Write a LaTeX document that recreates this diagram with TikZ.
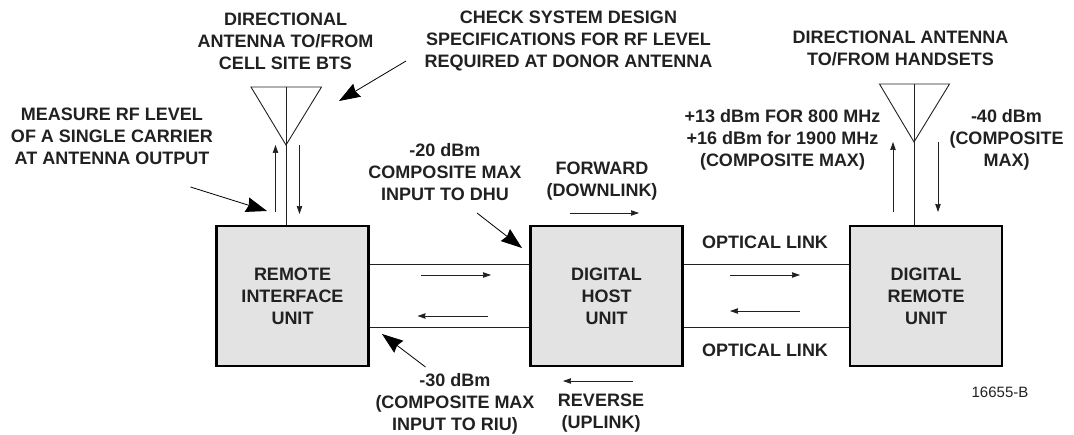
\documentclass[tikz,border=0pt]{standalone}
\usepackage{fontspec}
\setmainfont{Liberation Sans}
\definecolor{unitgray}{gray}{0.89}
\definecolor{inkgray}{gray}{0.13}
\usetikzlibrary{arrows.meta}
\begin{document}
\begin{tikzpicture}
[x = 1pt,y = -1pt,>={Stealth[length=8pt,width=5.5pt,inset=0.5pt]},
unit/.style = {draw = black, fill = unitgray, line width = 2.2pt, minimum width = 152pt, minimum height = 140pt, inner sep = 0pt, align = center, font = \fontsize{18}{22}\selectfont\bfseries, text = inkgray},
note/.style = {align = center, inner sep = 0pt, font = \fontsize{18}{22}\selectfont\bfseries, text = inkgray},
link/.style = {draw = inkgray, line width = 0.9pt},
flow/.style = {draw = inkgray, line width = 0.8pt, ->},
callout/.style = {draw = black, line width = 0.8pt, -{Stealth[length=21pt,width=15pt,inset=2pt]}}]
\useasboundingbox (0,0) rectangle (1074,434);
\node (RIU) at (292.5,296)[unit] {REMOTE\\INTERFACE\\UNIT};
\node (DHU) at (606.5,296)[unit] {DIGITAL\\HOST\\UNIT};
\node (DRU) at (926,296)[unit] {DIGITAL\\REMOTE\\UNIT};
\coordinate (LA1) at (251,87);
\coordinate (LA2) at (321.5,87);
\coordinate (LAm) at (286,87);
\coordinate (LAp) at (286,145);
\coordinate (RA1) at (879.5,84);
\coordinate (RA2) at (949.5,84);
\coordinate (RAm) at (914,84);
\coordinate (RAp) at (914,142);
\draw [link] (LA1)--(LA2)--(LAp)--cycle;
\draw [link] (LAm)--(LAm |- RIU.north);
\draw [link] (RA1)--(RA2)--(RAp)--cycle;
\draw [link] (RAm)--(RAm |- DRU.north);
\draw [link] (RIU.east |- 0,264)--(DHU.west |- 0,264);
\draw [link] (RIU.east |- 0,327)--(DHU.west |- 0,327);
\draw [link] (DHU.east |- 0,264)--(DRU.west |- 0,264);
\draw [link] (DHU.east |- 0,327)--(DRU.west |- 0,327);
\draw [flow] (275.5,212)--(275.5,145);
\draw [flow] (299.5,145)--(299.5,214);
\draw [flow] (893,212)--(893,142);
\draw [flow] (938,142)--(938,212);
\draw [flow] (421,275)--(491,275);
\draw [flow] (488,316)--(417.5,316);
\draw [flow] (730,275)--(800,275);
\draw [flow] (800,311)--(730,311);
\draw [flow] (569.5,213)--(639,213);
\draw [flow] (633,381)--(563,381);
\node (DA) at (285.5,41)[note] {DIRECTIONAL\\ANTENNA TO/FROM\\CELL SITE BTS};
\node (CS) at (568.5,41)[note] {CHECK SYSTEM DESIGN\\SPECIFICATIONS FOR RF LEVEL\\REQUIRED AT DONOR ANTENNA};
\node (MR) at (112,136)[note] {MEASURE RF LEVEL\\OF A SINGLE CARRIER\\AT ANTENNA OUTPUT};
\node (C20) at (445,172.5)[note] {-20 dBm\\COMPOSITE MAX\\INPUT TO DHU};
\node (FW) at (602,181.5)[note] {FORWARD\\(DOWNLINK)};
\node (HS) at (900.5,48)[note] {DIRECTIONAL ANTENNA\\TO/FROM HANDSETS};
\node (P13) at (782.5,140)[note] {+13 dBm FOR 800 MHz\\+16 dBm for 1900 MHz\\(COMPOSITE MAX)};
\node (M40) at (1006.5,140)[note] {-40 dBm\\(COMPOSITE\\MAX)};
\node (OL1) at (765,242)[note] {OPTICAL LINK};
\node (OL2) at (765,350)[note] {OPTICAL LINK};
\node (C30) at (455,404)[note] {-30 dBm\\(COMPOSITE MAX\\INPUT TO RIU)};
\node (RV) at (601,413.5)[note] {REVERSE\\(UPLINK)};
\node (FIG) at (1000,392)[inner sep = 0pt, font = \fontsize{15}{18}\selectfont, text = inkgray] {16655-B};
\coordinate (CSa) at (406,61);
\coordinate (CSb) at (339,101);
\coordinate (MRa) at (190.5,187);
\coordinate (MRb) at (267,211);
\coordinate (C20a) at (477,213);
\coordinate (C20b) at (522,248);
\coordinate (C30a) at (425.5,367);
\coordinate (C30b) at (382,334);
\draw [callout] (CSa)--(CSb);
\draw [callout] (MRa)--(MRb);
\draw [callout] (C20a)--(C20b);
\draw [callout] (C30a)--(C30b);
\end{tikzpicture}
\end{document}
